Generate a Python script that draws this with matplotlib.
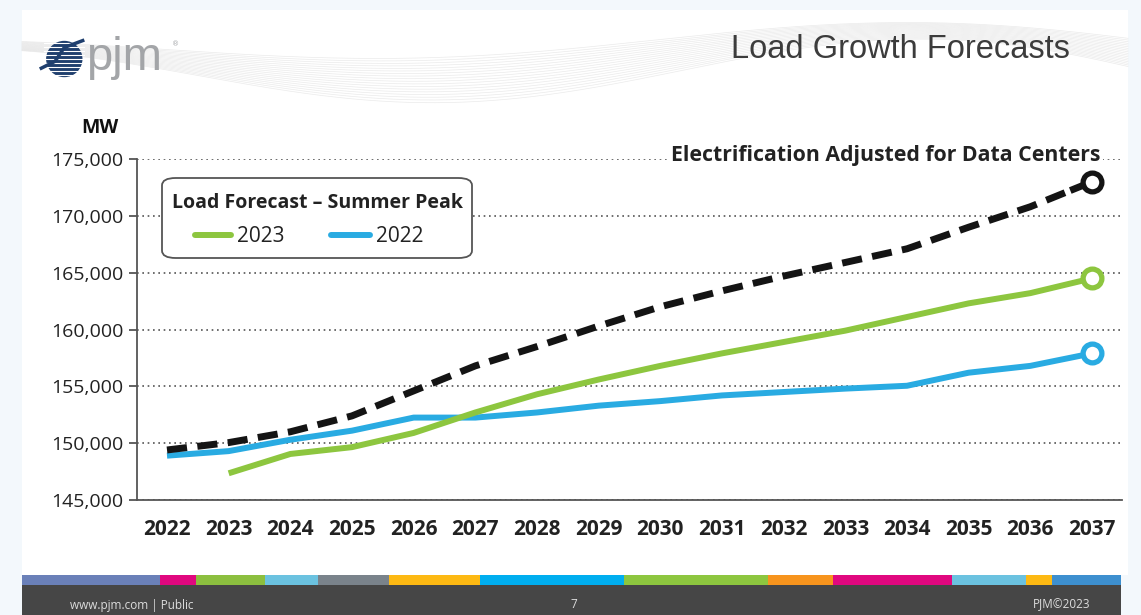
import numpy as np
import matplotlib
matplotlib.use("Agg")
import matplotlib.pyplot as plt
from matplotlib.patches import Rectangle, Circle, FancyBboxPatch
from matplotlib.lines import Line2D
from matplotlib.ticker import FuncFormatter
from matplotlib import font_manager

# ---------------- data ----------------
years = list(range(2022, 2038))
elec_dc = [149400, 150050, 151000, 152400, 154600, 156800, 158500, 160300,
           162000, 163400, 164700, 165900, 167100, 169000, 170800, 173000]
years_2023 = list(range(2023, 2038))
fc_2023 = [147350, 149050, 149650, 150900, 152700, 154300, 155600, 156800,
           157900, 158900, 159900, 161100, 162300, 163200, 164500]
fc_2022 = [148900, 149300, 150300, 151100, 152250, 152250, 152700, 153300,
           153700, 154200, 154500, 154800, 155050, 156200, 156800, 157900]
y_ticks = [145000, 150000, 155000, 160000, 165000, 170000, 175000]
legend_labels = ["2023", "2022"]

title = "Load Growth Forecasts"
legend_title = "Load Forecast \u2013 Summer Peak"
annot = "Electrification Adjusted for Data Centers"
footer_colors = ["#6A80B8", "#E0087F", "#8CBF3F", "#6BC2E0", "#7A838B", "#FDB913",
                 "#00AEEF", "#8DC63F", "#F7941D", "#E0087F", "#6BC2E0", "#FDB913", "#3D8FCF"]
footer_edges = [22, 160, 196, 265, 318, 389, 480, 624, 768, 833, 952, 1026, 1052, 1121]

GREEN = "#8DC63F"
BLUE = "#29ABE2"
BLACK = "#141414"
avail = {f.name for f in font_manager.fontManager.ttflist}
NARROW = [f for f in ["Liberation Sans Narrow", "Open Sans", "Liberation Sans", "DejaVu Sans"] if f in avail]

W, H = 1141, 615
fig = plt.figure(figsize=(W / 100, H / 100), dpi=100)
fig.patch.set_facecolor("#F3F8FC")

def fx(px):
    return px / W

def fy(py):
    return 1 - py / H

# slide background
fig.patches.append(Rectangle((fx(22), fy(575)), fx(1128) - fx(22), fy(10) - fy(575),
                             transform=fig.transFigure, facecolor="white", edgecolor="none", zorder=-2))

# decorative wave lines at top
xs = np.linspace(22, 1128, 400)
for k in range(18):
    off = k * 1.8
    yv = 45 + off + 30 * np.sin((xs - 200) / 1000 * 2 * np.pi) * (0.5 + 0.04 * k) + 10 * np.cos((xs + k * 10) / 240)
    yv = np.clip(yv, 12, 112)
    fig.add_artist(Line2D(fx(xs), fy(yv), transform=fig.transFigure, color="#E2E2E2",
                          lw=0.5, alpha=0.7, zorder=-1))

# footer
for i, c in enumerate(footer_colors):
    fig.patches.append(Rectangle((fx(footer_edges[i]), fy(585)), fx(footer_edges[i + 1] - footer_edges[i]),
                                 fy(575) - fy(585), transform=fig.transFigure,
                                 facecolor=c, edgecolor="none", zorder=1))
fig.patches.append(Rectangle((fx(22), 0), fx(1121) - fx(22), fy(585),
                             transform=fig.transFigure, facecolor="#464646", edgecolor="none", zorder=1))
fig.text(fx(70), fy(605), "www.pjm.com | Public", fontsize=8.5, color="#DDDDDD",
         family=NARROW, va="center", ha="left", zorder=2)
fig.text(fx(574), fy(605), "7", fontsize=8.5, color="#DDDDDD", family=NARROW,
         va="center", ha="center", zorder=2)
fig.text(fx(1090), fy(605), "PJM\u00a92023", fontsize=8.5, color="#DDDDDD", family=NARROW,
         va="center", ha="right", zorder=2)

# title
fig.text(fx(1070), fy(50), title, fontsize=23.5, color="#3C3C3C", family="Liberation Sans",
         ha="right", va="center", zorder=2)

# logo
lax = fig.add_axes([fx(36), fy(82), fx(52), fy(36) - fy(82)])
lax.set_xlim(0, 1)
lax.set_ylim(0, 1)
lax.set_aspect("equal")
lax.axis("off")
lax.add_patch(Circle((0.55, 0.5), 0.38, color="#1F3F6E"))
for yy in np.linspace(0.16, 0.84, 9):
    lax.plot([0.1, 1.0], [yy, yy], color="white", lw=0.8)
lax.plot([0.05, 0.35, 0.55, 0.95], [0.3, 0.45, 0.75, 0.9], color="#1F3F6E", lw=2.5)
fig.text(fx(86), fy(58), "pjm", fontsize=34, color="#A3A5A8", family="Liberation Sans",
         ha="left", va="center", zorder=2)
fig.text(fx(172), fy(44), "\u00ae", fontsize=5, color="#A3A5A8", ha="left", va="center")

# ---------------- chart ----------------
ax = fig.add_axes([fx(137), fy(500), fx(1122) - fx(137), fy(159) - fy(500)])
ax.set_facecolor("none")
ax.set_xlim(2022 - 30 / 61.67, 2037 + 30 / 61.67)
ax.set_ylim(145000, 175000)
ax.set_yticks(y_ticks)
ax.set_xticks(years)
ax.yaxis.set_major_formatter(FuncFormatter(lambda v, p: f"{int(v):,}"))
ax.grid(axis="y", linestyle=(0, (1, 2.2)), color="#555555", lw=1.2)
ax.set_axisbelow(True)
for s in ["top", "right"]:
    ax.spines[s].set_visible(False)
for s in ["left", "bottom"]:
    ax.spines[s].set_color("#555555")
    ax.spines[s].set_linewidth(1.3)
ax.tick_params(axis="y", length=6, width=1.3, color="#555555", pad=4, labelsize=14,
               labelcolor="#222222")
ax.tick_params(axis="x", length=0, pad=14, labelsize=15, labelcolor="#222222")
for lab in ax.get_yticklabels():
    lab.set_family(NARROW)
for lab in ax.get_xticklabels():
    lab.set_family(NARROW)
    lab.set_fontweight("bold")

ax.plot(years, fc_2022, color=BLUE, lw=4.3, solid_capstyle="butt", marker="o",
        markevery=[len(years) - 1], ms=13.5, mfc="white", mec=BLUE, mew=3.8,
        clip_on=False, zorder=3)
ax.plot(years_2023, fc_2023, color=GREEN, lw=4.3, solid_capstyle="butt", marker="o",
        markevery=[len(years_2023) - 1], ms=13.5, mfc="white", mec=GREEN, mew=3.8,
        clip_on=False, zorder=4)
tail_x = years[-1] - 0.3
tail_y = elec_dc[-1] - (elec_dc[-1] - elec_dc[-2]) * 0.3
ax.plot(years[:-1] + [tail_x], elec_dc[:-1] + [tail_y],
        color=BLACK, lw=5, linestyle=(0, (2.9, 1.5)), dash_capstyle="butt", clip_on=False, zorder=5)
ax.plot([tail_x, years[-1]], [tail_y, elec_dc[-1]], color=BLACK, lw=5, zorder=5, clip_on=False)
ax.plot(years[-1:], elec_dc[-1:], linestyle="none", marker="o",
        ms=13.5, mfc="white", mec=BLACK, mew=3.8, clip_on=False, zorder=6)

# annotation
fig.text(fx(1100), fy(156), annot, fontsize=15.3, fontweight="bold", color="#222222",
         family=NARROW, ha="right", va="center", zorder=5,
         bbox=dict(facecolor="white", edgecolor="none", pad=2))
fig.text(fx(100), fy(128), "MW", fontsize=14, fontweight="bold", color="#111111",
         family=NARROW, ha="center", va="center")

# legend box (drawn by hand to match layout)
box = FancyBboxPatch((fx(162), fy(258)), fx(472) - fx(162), fy(178) - fy(258),
                     boxstyle="round,pad=0,rounding_size=0.012", transform=fig.transFigure,
                     facecolor="white", edgecolor="#555555", lw=1.3, zorder=7)
fig.patches.append(box)
fig.text(fx(317), fy(203), legend_title, fontsize=14, fontweight="bold", color="#222222",
         family=NARROW, ha="center", va="center", zorder=8)
leg_colors = [GREEN, BLUE]
leg_x = [(195, 231, 237), (331, 370, 376)]
for (x0, x1, xt), c, lab in zip(leg_x, leg_colors, legend_labels):
    fig.add_artist(Line2D([fx(x0), fx(x1)], [fy(235), fy(235)], transform=fig.transFigure,
                          color=c, lw=4.3, solid_capstyle="round", zorder=8))
    fig.text(fx(xt), fy(236), lab, fontsize=15, color="#222222", family=NARROW,
             ha="left", va="center", zorder=8)

fig.savefig("out.png", dpi=100, facecolor=fig.get_facecolor())
